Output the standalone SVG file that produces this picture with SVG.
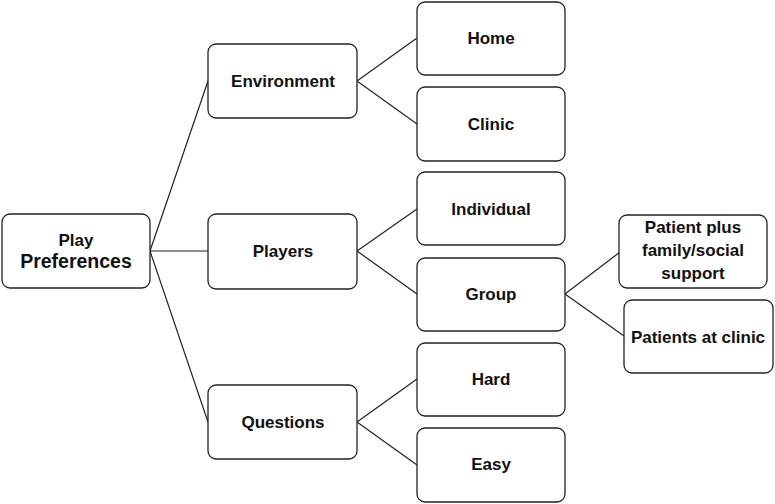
<svg xmlns="http://www.w3.org/2000/svg" width="775" height="504" viewBox="0 0 775 504">
<style>
.box{fill:#fff;stroke:#222;stroke-width:1.3}
.t{font-family:"Liberation Sans",Arial,sans-serif;font-weight:bold;font-size:17px;fill:#111;text-anchor:middle}
.c{stroke:#222;stroke-width:1.2;fill:none}
</style>
<rect width="775" height="504" fill="#fff"/>
<g id="connectors">
<path class="c" d="M150,251 L208,81 M150,251 L208,251 M150,251 L208,422"/>
<path class="c" d="M357,81 L417,38 M357,81 L417,124"/>
<path class="c" d="M357,251 L417,209 M357,251 L417,294"/>
<path class="c" d="M357,422 L417,379 M357,422 L417,465"/>
<path class="c" d="M565,294 L620,252 M565,294 L624,336"/>
</g>
<g id="play-preferences">
<rect class="box" x="2" y="214" width="148" height="74" rx="8"/>
<text class="t" x="76" y="246">Play</text>
<text class="t" x="76" y="268" style="font-size:19.5px">Preferences</text>
</g>
<g id="environment">
<rect class="box" x="208" y="44" width="149" height="74" rx="8"/>
<text class="t" x="283" y="87">Environment</text>
</g>
<g id="players">
<rect class="box" x="208" y="214" width="149" height="75" rx="8"/>
<text class="t" x="283" y="257">Players</text>
</g>
<g id="questions">
<rect class="box" x="208" y="385" width="149" height="74" rx="8"/>
<text class="t" x="283" y="428">Questions</text>
</g>
<g id="home">
<rect class="box" x="417" y="2" width="148" height="73" rx="8"/>
<text class="t" x="491" y="44">Home</text>
</g>
<g id="clinic">
<rect class="box" x="417" y="87" width="148" height="74" rx="8"/>
<text class="t" x="491" y="130">Clinic</text>
</g>
<g id="individual">
<rect class="box" x="417" y="172" width="148" height="73" rx="8"/>
<text class="t" x="491" y="215">Individual</text>
</g>
<g id="group">
<rect class="box" x="417" y="258" width="148" height="73" rx="8"/>
<text class="t" x="491" y="300">Group</text>
</g>
<g id="hard">
<rect class="box" x="417" y="343" width="148" height="73" rx="8"/>
<text class="t" x="491" y="385">Hard</text>
</g>
<g id="easy">
<rect class="box" x="417" y="428" width="148" height="74" rx="8"/>
<text class="t" x="491" y="470">Easy</text>
</g>
<g id="patient-plus">
<rect class="box" x="619" y="215" width="148" height="73" rx="8"/>
<text class="t" x="693" y="233">Patient plus</text>
<text class="t" x="693" y="256">family/social</text>
<text class="t" x="693" y="279">support</text>
</g>
<g id="patients-at-clinic">
<rect class="box" x="624" y="300" width="149" height="73" rx="8"/>
<text class="t" x="698" y="343">Patients at clinic</text>
</g>
</svg>
